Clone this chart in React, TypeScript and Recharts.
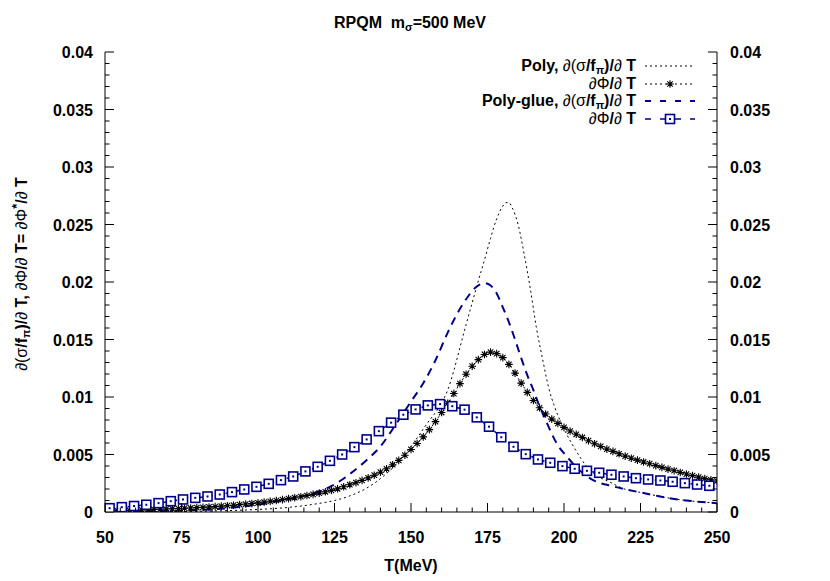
import React from "react";
import { LineChart, Line, XAxis, YAxis, Legend } from "recharts";

// T grid (MeV) and values
const polySigmaT = [50, 60, 70, 80, 90, 100, 110, 115, 120, 125, 130, 135, 140, 145, 150, 155, 160, 162, 164, 166, 168, 170, 172, 174, 176, 178, 180, 181, 182, 183, 185, 187, 189, 191, 193, 195, 197, 199, 201, 204, 207, 210, 215, 220, 225, 230, 235, 240, 245, 250];
const polySigmaV = [0, 0.00001, 0.00003, 0.00006, 0.00012, 0.00022, 0.0004, 0.00055, 0.00075, 0.001, 0.0014, 0.002, 0.0029, 0.0041, 0.0057, 0.0076, 0.0095, 0.0106, 0.0123, 0.0143, 0.0163, 0.0182, 0.0201, 0.0219, 0.0238, 0.0255, 0.0266, 0.0269, 0.0269, 0.0265, 0.025, 0.0224, 0.0194, 0.016, 0.0133, 0.0108, 0.0091, 0.0078, 0.0067, 0.0053, 0.0041, 0.0033, 0.0026, 0.00198, 0.0017, 0.00143, 0.00118, 0.001, 0.00087, 0.00077];

const polyPhiT = Array.from({ length: 101 }, (_, i) => 50 + 2 * i);
const polyPhiV = [
  0.00008, 0.0001, 0.00011, 0.00013, 0.00014, 0.00016, 0.00018, 0.0002, 0.00022, 0.00024,
  0.00026, 0.00028, 0.0003, 0.00033, 0.00035, 0.00038, 0.00041, 0.00044, 0.00047, 0.00051,
  0.00055, 0.00059, 0.00064, 0.00069, 0.00074, 0.0008, 0.00086, 0.00093, 0.001, 0.00108,
  0.00116, 0.00124, 0.00133, 0.00143, 0.00153, 0.00164, 0.00176, 0.00188, 0.00202, 0.00219,
  0.00237, 0.00255, 0.00275, 0.00297, 0.0032, 0.00346, 0.00376, 0.00411, 0.00449, 0.00494,
  0.00544, 0.00596, 0.00653, 0.00716, 0.00786, 0.00865, 0.00946, 0.0103, 0.01116, 0.01198,
  0.01268, 0.01325, 0.0137, 0.0139, 0.01377, 0.01342, 0.01284, 0.01208, 0.01121, 0.0104,
  0.0097, 0.00906, 0.00852, 0.00808, 0.00771, 0.00736, 0.00704, 0.00676, 0.00648, 0.0062,
  0.00594, 0.0057, 0.00547, 0.00527, 0.00506, 0.00486, 0.00468, 0.00451, 0.00435, 0.0042,
  0.00403, 0.00388, 0.00373, 0.00359, 0.00344, 0.0033, 0.00316, 0.00303, 0.0029, 0.0028,
  0.0027,
];

const glueSigmaT = [50, 60, 70, 80, 85, 90, 95, 100, 105, 110, 115, 120, 125, 130, 135, 140, 145, 150, 154, 158, 162, 165, 168, 171, 174, 176, 178, 180, 182, 184, 186, 188, 190, 192, 194, 196, 198, 201, 204, 207, 210, 215, 220, 225, 230, 235, 240, 245, 250];
const glueSigmaV = [0.00002, 0.00005, 0.0001, 0.00017, 0.00023, 0.00033, 0.00048, 0.00065, 0.00087, 0.00112, 0.0014, 0.0018, 0.0024, 0.0033, 0.0044, 0.0057, 0.0076, 0.0096, 0.0112, 0.0132, 0.0156, 0.0172, 0.0185, 0.0195, 0.0199, 0.0197, 0.019, 0.0178, 0.0165, 0.015, 0.0134, 0.0119, 0.0106, 0.0092, 0.008, 0.0068, 0.0058, 0.0048, 0.0039, 0.0032, 0.0027, 0.0023, 0.00198, 0.0017, 0.00143, 0.00118, 0.001, 0.00087, 0.00077];

const gluePhiT = Array.from({ length: 50 }, (_, i) => 51.5 + 4 * i);
const gluePhiV = [
  0.00033, 0.00042, 0.00052, 0.00063, 0.00077, 0.00094, 0.00109, 0.00123, 0.00135, 0.00152,
  0.00173, 0.00196, 0.00219, 0.00245, 0.00277, 0.00309, 0.00353, 0.00393, 0.00445, 0.005,
  0.00564, 0.00631, 0.00703, 0.00777, 0.00846, 0.00892, 0.00927, 0.00938, 0.0092, 0.0089,
  0.00823, 0.00742, 0.0065, 0.00567, 0.00503, 0.00457, 0.00428, 0.00399, 0.00376, 0.00358,
  0.00341, 0.00324, 0.00309, 0.00294, 0.00283, 0.00274, 0.00263, 0.00251, 0.00239, 0.00228,
];

const xMajor = [50, 75, 100, 125, 150, 175, 200, 225, 250];
const yMajor = [0, 0.005, 0.01, 0.015, 0.02, 0.025, 0.03, 0.035, 0.04];

const xTicksAll = Array.from({ length: 41 }, (_, i) => 50 + 5 * i);
const yTicksAll = Array.from({ length: 41 }, (_, i) => i / 1000);

const pair = (ts: number[], vs: number[]) => ts.map((t, i) => ({ t, v: vs[i] }));
const polySigma = pair(polySigmaT, polySigmaV);
const polyPhi = pair(polyPhiT, polyPhiV);
const glueSigma = pair(glueSigmaT, glueSigmaV);
const gluePhi = pair(gluePhiT, gluePhiV);

const FONT = '"Liberation Sans", Arial, Helvetica, sans-serif';
const NAVY = "#00008b";
const FS = 16;

const isMajorX = (v: number) => xMajor.includes(v);
const isMajorY = (v: number) => yMajor.some((m) => Math.abs(m - v) < 1e-7);
const fmtY = (v: number) => String(Number(v.toFixed(3)));

const tickText = { fontFamily: FONT, fontSize: FS, fontWeight: "bold" as const, fill: "#000" };

const BottomTick = ({ x, y, payload }: any) => {
  const major = isMajorX(payload.value);
  return (
    <g>
      <line x1={x} x2={x} y1={y} y2={y - (major ? 9 : 4.5)} stroke="#000" />
      {major && (
        <text x={x} y={y + 31} textAnchor="middle" {...tickText}>
          {payload.value}
        </text>
      )}
    </g>
  );
};

const TopTick = ({ x, y, payload }: any) => {
  const major = isMajorX(payload.value);
  return <line x1={x} x2={x} y1={y} y2={y + (major ? 9 : 4.5)} stroke="#000" />;
};

const LeftTick = ({ x, y, payload }: any) => {
  const major = isMajorY(payload.value);
  return (
    <g>
      <line x1={x} x2={x + (major ? 9 : 4.5)} y1={y} y2={y} stroke="#000" />
      {major && (
        <text x={x - 12} y={y + 6} textAnchor="end" {...tickText}>
          {fmtY(payload.value)}
        </text>
      )}
    </g>
  );
};

const RightTick = ({ x, y, payload }: any) => {
  const major = isMajorY(payload.value);
  return (
    <g>
      <line x1={x} x2={x - (major ? 9 : 4.5)} y1={y} y2={y} stroke="#000" />
      {major && (
        <text x={x + 13} y={y + 6} textAnchor="start" {...tickText}>
          {fmtY(payload.value)}
        </text>
      )}
    </g>
  );
};

const starPath = (cx: number, cy: number, r: number) => {
  const d = r * 0.72;
  return `M${cx - r},${cy}H${cx + r}M${cx},${cy - r}V${cy + r}M${cx - d},${cy - d}L${cx + d},${cy + d}M${cx - d},${cy + d}L${cx + d},${cy - d}`;
};

const StarDot = (props: any) => {
  const { cx, cy, index } = props;
  if (cx == null || cy == null) return <g key={`st-${index}`} />;
  return <path key={`st-${index}`} d={starPath(cx, cy, 3.8)} stroke="#000" strokeWidth={1.1} fill="none" />;
};

const SquareDot = (props: any) => {
  const { cx, cy, index } = props;
  if (cx == null || cy == null) return <g key={`sq-${index}`} />;
  return (
    <g key={`sq-${index}`}>
      <rect x={cx - 4.5} y={cy - 4.5} width={9} height={9} fill="#fff" stroke={NAVY} strokeWidth={1.6} />
      <rect x={cx - 1} y={cy - 1} width={2} height={2} fill={NAVY} />
    </g>
  );
};

const sym = { fontWeight: "normal" as const };
const sub = { fontSize: 11, verticalAlign: "-3px", lineHeight: 0 };

const SigmaLabel = () => (
  <>
    <span style={sym}>∂(σ</span>/f<sub style={sub}>π</sub>)/<span style={sym}>∂</span> T
  </>
);
const PhiLabel = () => (
  <>
    <span style={sym}>∂Φ</span>/<span style={sym}>∂</span> T
  </>
);

const legendRows = [
  { label: <>Poly, <SigmaLabel /></>, kind: "polySigma" },
  { label: <PhiLabel />, kind: "polyPhi" },
  { label: <>Poly-glue, <SigmaLabel /></>, kind: "glueSigma" },
  { label: <PhiLabel />, kind: "gluePhi" },
];

const Sample = ({ kind }: { kind: string }) => {
  const y = 9;
  return (
    <svg width={50} height={17.6} style={{ display: "block" }}>
      {kind === "polySigma" && <line x1={0} x2={50} y1={y} y2={y} stroke="#000" strokeDasharray="2 3" />}
      {kind === "polyPhi" && (
        <>
          <line x1={0} x2={50} y1={y} y2={y} stroke="#000" strokeDasharray="2 3" />
          <path d={starPath(25, y, 3.8)} stroke="#000" strokeWidth={1.1} />
        </>
      )}
      {kind === "glueSigma" && <line x1={0} x2={50} y1={y} y2={y} stroke={NAVY} strokeWidth={2} strokeDasharray="6 9" />}
      {kind === "gluePhi" && (
        <>
          <line x1={0} x2={50} y1={y} y2={y} stroke={NAVY} strokeWidth={1.5} strokeDasharray="6 9" />
          <rect x={20.5} y={y - 4.5} width={9} height={9} fill="#fff" stroke={NAVY} strokeWidth={1.6} />
          <rect x={24} y={y - 1} width={2} height={2} fill={NAVY} />
        </>
      )}
    </svg>
  );
};

const LegendBox = () => (
  <div style={{ width: 400, fontFamily: FONT, fontSize: FS, fontWeight: "bold", color: "#000" }}>
    {legendRows.map((r, i) => (
      <div key={i} style={{ display: "flex", justifyContent: "flex-end", alignItems: "center", height: 17.6, paddingRight: 5 }}>
        <span style={{ whiteSpace: "nowrap", lineHeight: "17.6px" }}>{r.label}</span>
        <span style={{ width: 9 }} />
        <Sample kind={r.kind} />
      </div>
    ))}
  </div>
);

export default function App() {
  return (
    <div style={{ position: "relative", width: 830, height: 581, fontFamily: FONT, background: "#fff" }}>
      <style>{"body{margin:0}"}</style>
      <div
        style={{
          position: "absolute",
          top: 12,
          left: 0,
          width: 820,
          textAlign: "center",
          fontSize: FS,
          fontWeight: "bold",
          lineHeight: "22px",
        }}
      >
        RPQM&nbsp;&nbsp;m<sub style={sub}>σ</sub>=500 MeV
      </div>
      <div
        style={{
          position: "absolute",
          left: 22 - 160,
          top: 274 - 11,
          width: 320,
          height: 22,
          lineHeight: "22px",
          textAlign: "center",
          transform: "rotate(-90deg)",
          transformOrigin: "center",
          fontSize: FS,
          fontWeight: "bold",
          whiteSpace: "nowrap",
          zIndex: 2,
        }}
      >
        <span style={sym}>∂(σ</span>/f<sub style={sub}>π</sub>)/<span style={sym}>∂</span> T, <span style={sym}>∂Φ</span>/
        <span style={sym}>∂</span> T= <span style={sym}>∂Φ</span>
        <sup style={{ fontSize: 13, verticalAlign: "6px", lineHeight: 0 }}>*</sup>/<span style={sym}>∂</span> T
      </div>
      <LineChart width={830} height={581} margin={{ top: 52, right: 0, bottom: 0, left: 0 }}>
        <XAxis
          xAxisId="b"
          dataKey="t"
          type="number"
          domain={[50, 250]}
          ticks={xTicksAll}
          interval={0}
          allowDataOverflow
          height={69}
          tickSize={0}
          tickMargin={0}
          tickLine={false}
          axisLine={{ stroke: "#000", strokeWidth: 1 }}
          tick={<BottomTick />}
          label={{ value: "T(MeV)", position: "insideBottom", offset: 10, style: { ...tickText } }}
        />
        <XAxis
          xAxisId="t"
          dataKey="t"
          orientation="top"
          type="number"
          domain={[50, 250]}
          ticks={xTicksAll}
          interval={0}
          allowDataOverflow
          height={0}
          tickSize={0}
          tickMargin={0}
          tickLine={false}
          axisLine={{ stroke: "#000", strokeWidth: 1 }}
          tick={<TopTick />}
        />
        <YAxis
          yAxisId="l"
          type="number"
          domain={[0, 0.04]}
          ticks={yTicksAll}
          interval={0}
          allowDataOverflow
          width={105}
          tickSize={0}
          tickMargin={0}
          tickLine={false}
          axisLine={{ stroke: "#000", strokeWidth: 1 }}
          tick={<LeftTick />}
        />
        <YAxis
          yAxisId="r"
          orientation="right"
          type="number"
          domain={[0, 0.04]}
          ticks={yTicksAll}
          interval={0}
          allowDataOverflow
          width={113}
          tickSize={0}
          tickMargin={0}
          tickLine={false}
          axisLine={{ stroke: "#000", strokeWidth: 1 }}
          tick={<RightTick />}
        />
        <Legend
          verticalAlign="middle"
          align="center"
          content={<LegendBox />}
          wrapperStyle={{ top: 57, left: 300, width: 400 }}
        />
        <Line
          xAxisId="b"
          yAxisId="l"
          data={polySigma}
          dataKey="v"
          type="monotone"
          stroke="#000"
          strokeWidth={1}
          strokeDasharray="2 3"
          dot={false}
          isAnimationActive={false}
        />
        <Line
          xAxisId="b"
          yAxisId="l"
          data={polyPhi}
          dataKey="v"
          type="linear"
          stroke="#000"
          strokeWidth={1}
          strokeDasharray="2 3"
          dot={StarDot}
          isAnimationActive={false}
        />
        <Line
          xAxisId="b"
          yAxisId="l"
          data={glueSigma}
          dataKey="v"
          type="monotone"
          stroke={NAVY}
          strokeWidth={2}
          strokeDasharray="8 6"
          dot={false}
          isAnimationActive={false}
        />
        <Line
          xAxisId="b"
          yAxisId="l"
          data={gluePhi}
          dataKey="v"
          type="linear"
          stroke={NAVY}
          strokeWidth={1.5}
          strokeDasharray="5 4"
          dot={SquareDot}
          isAnimationActive={false}
        />
      </LineChart>
    </div>
  );
}
